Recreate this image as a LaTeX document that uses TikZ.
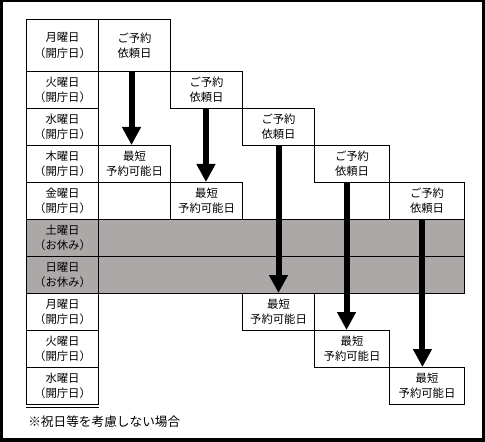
\documentclass[tikz,border=0pt]{standalone}
\usepackage{fontspec}
\newfontfamily\jp{Noto Sans CJK JP}
\usetikzlibrary{arrows.meta}
\definecolor{holgray}{RGB}{172,168,168}
\begin{document}
\begin{tikzpicture}[x=0.75pt,y=-0.75pt,
  cell/.style={draw=black,line width=0.75pt,inner sep=0pt,anchor=north west,minimum width=54pt,minimum height=27.75pt,align=center,font=\jp\fontsize{8.5}{11.5}\selectfont},
  wide/.style={minimum width=56.25pt},
  tall/.style={minimum height=39pt},
  off/.style={fill=holgray},
  band/.style={cell,fill=holgray,minimum width=274.5pt},
  bigarrow/.style={line width=4.5pt,-{Triangle[length=13.5pt,width=13.5pt]}},
  note/.style={anchor=west,inner sep=0pt,font=\jp\fontsize{9.5}{11}\selectfont}
]
\useasboundingbox (0,0) rectangle (485,442);
\fill[black] (0,0) rectangle (485,442);
\fill[white] (3,2) rectangle (481.5,437.5);

% day column
\node[cell,tall] (D1) at (26,19) {月曜日\\（開庁日）};
\node[cell] (D2) at (26,71) {火曜日\\（開庁日）};
\node[cell] (D3) at (26,108) {水曜日\\（開庁日）};
\node[cell] (D4) at (26,145) {木曜日\\（開庁日）};
\node[cell] (D5) at (26,182) {金曜日\\（開庁日）};
\node[cell,off] (D6) at (26,219) {土曜日\\（お休み）};
\node[cell,off] (D7) at (26,256) {日曜日\\（お休み）};
\node[cell] (D8) at (26,293) {月曜日\\（開庁日）};
\node[cell] (D9) at (26,330) {火曜日\\（開庁日）};
\node[cell] (D10) at (26,367) {水曜日\\（開庁日）};
\draw[line width=0.75pt] ([yshift=-1.5pt]D10.south west) -- ([yshift=-1.5pt]D10.south east);

% holiday bands
\node[band] (B1) at (98,219) {};
\node[band] (B2) at (98,256) {};

% request boxes
\node[cell,tall] (R1) at (98,19) {ご予約\\依頼日};
\node[cell] (R2) at (170,71) {ご予約\\依頼日};
\node[cell] (R3) at (242,108) {ご予約\\依頼日};
\node[cell,wide] (R4) at (314,145) {ご予約\\依頼日};
\node[cell,wide] (R5) at (389,182) {ご予約\\依頼日};

% earliest boxes
\node[cell] (E1) at (98,145) {最短\\予約可能日};
\node[cell] (E2) at (170,182) {最短\\予約可能日};
\node[cell] (E3) at (242,293) {最短\\予約可能日};
\node[cell,wide] (E4) at (314,330) {最短\\予約可能日};
\node[cell,wide] (E5) at (389,367) {最短\\予約可能日};

% arrows
\draw[bigarrow] ([xshift=-2.25pt]R1.south) -- ([xshift=-2.25pt]E1.north);
\draw[bigarrow] ([xshift=-0.4pt]R2.south) -- ([xshift=-0.4pt]E2.north);
\draw[bigarrow] (R3.south) -- (E3.north);
\draw[bigarrow] ([xshift=-4.1pt]R4.south) -- ([xshift=-4.1pt]E4.north);
\draw[bigarrow] ([xshift=-3.4pt]R5.south) -- ([xshift=-3.4pt]E5.north);

\node[note] (N) at (28,422) {※祝日等を考慮しない場合};
\end{tikzpicture}
\end{document}
